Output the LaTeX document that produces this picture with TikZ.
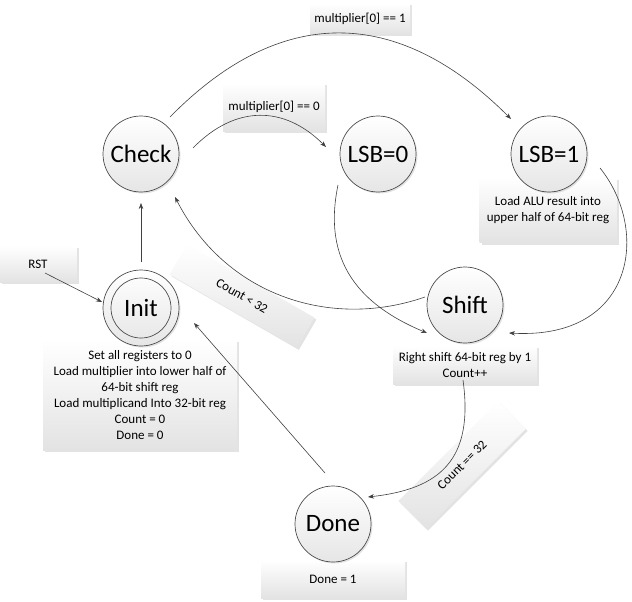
\documentclass[tikz,border=0pt]{standalone}
\usepackage{fontspec}
\setmainfont{Carlito}
\usetikzlibrary{arrows.meta,shadows,calc}
\begin{document}
\begin{tikzpicture}[x=1pt,y=-1pt,
  state/.style={circle, draw=black!70, line width=0.7pt, minimum size=76pt, inner sep=0pt,
    top color=white, bottom color=black!10,
    drop shadow={opacity=0.22, shadow xshift=1.5pt, shadow yshift=-1.5pt},
    font=\fontsize{25}{30}\selectfont},
  ring/.style={circle, draw=black!70, line width=0.7pt, minimum size=60pt, inner sep=0pt},
  note/.style={rectangle, inner sep=0pt, top color=white, bottom color=black!11,
    drop shadow={opacity=0.22, shadow xshift=2pt, shadow yshift=-2pt},
    font=\fontsize{13}{16}\selectfont, align=center},
  conn/.style={draw=black!75, line width=0.6pt, -{Stealth[length=6pt,width=4.5pt]}},
  plain/.style={draw=black!75, line width=0.6pt},
]
\useasboundingbox (0,0) rectangle (632,602);

% text boxes
\node[note, minimum width=100pt, minimum height=31pt] (lblOne) at (360,19) {multiplier[0] == 1};
\node[note, minimum width=102pt, minimum height=48pt] (lblZero) at (274,107) {multiplier[0] == 0};
\node[note, minimum width=137pt, minimum height=65pt] (aluBox) at (548,210) {Load ALU result into\\upper half of 64-bit reg};
\node[note, minimum width=77pt, minimum height=36pt] (rstBox) at (38,264) {RST};
\node[note, minimum width=194pt, minimum height=110pt] (initBox) at (140,395) {Set all registers to 0\\Load multiplier into lower half of\\64-bit shift reg\\Load multiplicand Into 32-bit reg\\Count = 0\\Done = 0};
\node[note, minimum width=144pt, minimum height=38pt] (shiftBox) at (465,365) {Right shift 64-bit reg by 1\\Count++};
\node[note, minimum width=144pt, minimum height=38pt] (doneBox) at (333,579) {Done = 1};
\node[note, minimum width=147pt, minimum height=35pt, rotate=-30] (ltBox) at (242,296) {Count < 32};
\node[note, minimum width=141pt, minimum height=39pt, rotate=45] (eqBox) at (462,465) {Count == 32};

% states
\node[state] (Check) at (141,154) {Check};
\node[state] (LSBz) at (378,154) {LSB=0};
\node[state] (LSBo) at (549,154) {LSB=1};
\node[state] (Init) at (141,308) {Init};
\node[ring] (InitIn) at (Init) {};
\node[state] (Shift) at (465,305) {Shift};
\node[state] (Done) at (333,524) {Done};

% connectors
\draw[conn] ($(Check)+(29,-37)$) .. controls +(110,-112) and +(-114,-114) .. ($(LSBo)+(-38,-35)$);
\draw[conn] ($(Check)+(52,-6)$) .. controls +(42,-43) and +(-42,-42) .. ($(LSBz)+(-52,-7)$);
\draw[conn] ($(LSBz)+(-40,31)$) .. controls +(-16,77) and +(-67,-28) .. ($(Shift)+(-38,28)$);
\draw[conn] ($(LSBo)+(51,14)$) .. controls +(50,62) and +(126,7) .. ($(Shift)+(44,28)$);
\draw[conn] ($(Shift)+(-40,-8)$) .. controls +(-95,33) and +(50,98) .. ($(Check)+(34,43)$);
\draw[conn] ($(Init)+(0,-46)$) -- ($(Check)+(0,49)$);
\draw[conn] ($(rstBox)+(7,9)$) -- ($(Init)+(-39,-6)$);
\draw[conn] ($(Done)+(-8,-51)$) -- ($(Init)+(53,15)$);
\draw[conn] ($(Shift)+(-2,75)$) .. controls +(11,80) and +(72,-8) .. ($(Done)+(35,-27)$);
\end{tikzpicture}
\end{document}
